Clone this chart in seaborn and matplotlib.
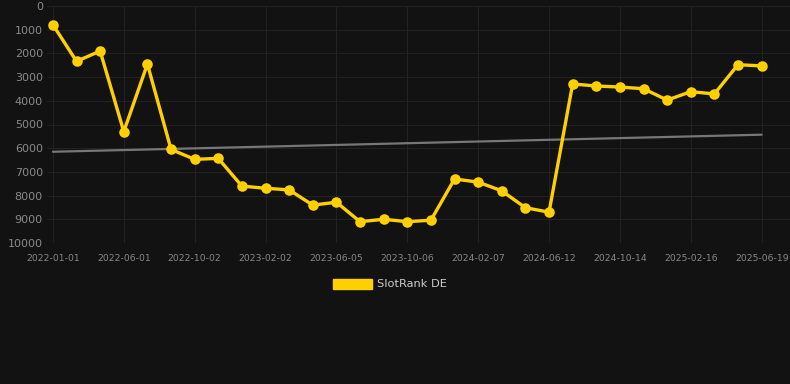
import pandas as pd
import matplotlib
matplotlib.use("Agg")
import matplotlib.pyplot as plt
import matplotlib.patches as mpatches
import seaborn as sns

# Data
dates = [
    "2022-01-01", "2022-02-20", "2022-04-11", "2022-06-01", "2022-07-12",
    "2022-08-22", "2022-10-02", "2022-11-12", "2022-12-23", "2023-02-02",
    "2023-03-15", "2023-04-25", "2023-06-05", "2023-07-16", "2023-08-26",
    "2023-10-06", "2023-11-16", "2023-12-27", "2024-02-07", "2024-03-20",
    "2024-05-01", "2024-06-12", "2024-07-24", "2024-09-03", "2024-10-14",
    "2024-11-24", "2025-01-05", "2025-02-16", "2025-03-29", "2025-05-09",
    "2025-06-19",
]
rank = [
    790, 2335, 1900, 5300, 2450,
    6050, 6470, 6430, 7600, 7690,
    7760, 8400, 8280, 9100, 9000,
    9100, 9040, 7300, 7430, 7800,
    8510, 8700, 3290, 3375, 3420,
    3490, 3970, 3615, 3710, 2475,
    2530,
]
trend_dates = ["2022-01-01", "2025-06-19"]
trend_rank = [6150, 5430]
tick_labels = dates[::3]
series_name = "SlotRank DE"

bg = "#121212"
gold = "#FFD000"

df = pd.DataFrame({"date": dates, "rank": rank})
trend = pd.DataFrame({"date": trend_dates, "rank": trend_rank})

sns.set_theme(style="dark")
plt.rcParams["font.family"] = ["DejaVu Sans"]

fig = plt.figure(figsize=(7.9, 3.84), dpi=100, facecolor=bg)
ax = fig.add_axes([47 / 790, 1 - 243 / 384, 1 - 47 / 790, 237 / 384])
ax.set_facecolor(bg)

# main series first so the categorical axis keeps every date in order
sns.lineplot(data=df, x="date", y="rank", ax=ax, color=gold, linewidth=2.4,
             marker="o", markersize=7.6, markeredgewidth=0, zorder=3)
sns.lineplot(data=trend, x="date", y="rank", ax=ax, color="#777777",
             linewidth=1.6, zorder=2)

ax.set_ylim(10000, 0)
ax.set_yticks(range(0, 10001, 1000))
ax.set_xlim(-0.25, len(dates) - 1 + 1.2)
ax.set_xticks([dates.index(t) for t in tick_labels])
ax.set_xticklabels(tick_labels)
ax.grid(True, color="#222222", linewidth=0.8)
ax.set_axisbelow(True)
ax.tick_params(axis="x", colors="#888888", labelsize=6.7, length=0, pad=8)
ax.tick_params(axis="y", colors="#8a8a8a", labelsize=8.0, length=0, pad=3)
ax.set_xlabel("")
ax.set_ylabel("")
for s in ax.spines.values():
    s.set_visible(False)

handle = mpatches.Patch(color=gold, label=series_name)
fig.legend(handles=[handle], loc="center", bbox_to_anchor=(390 / 790, 1 - 284 / 384),
           frameon=False, fontsize=8.2, labelcolor="#cccccc",
           handlelength=3.4, handleheight=1.0, handletextpad=0.5)

fig.savefig("out.png", dpi=100, facecolor=bg)
